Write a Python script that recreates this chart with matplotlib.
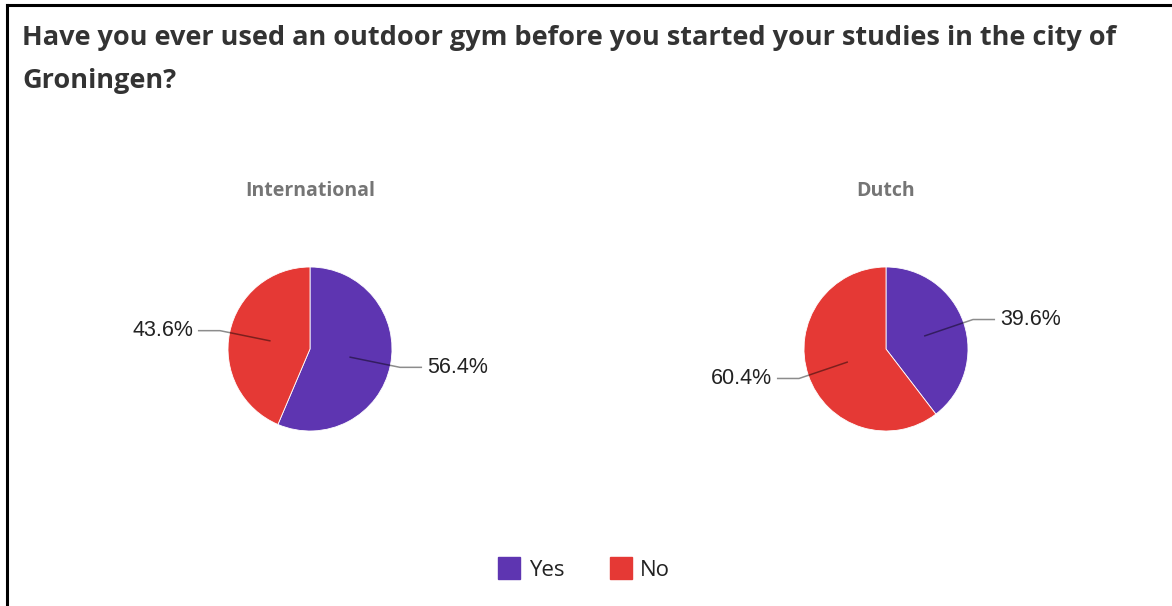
import matplotlib.pyplot as plt
from matplotlib.lines import Line2D
import numpy as np

# survey answers, share in percent
groups = ["International", "Dutch"]
answers = ["Yes", "No"]
shares = {
    "International": [56.4, 43.6],
    "Dutch": [39.6, 60.4],
}
colors = ["#5e35b1", "#e53935"]
title_lines = ["Have you ever used an outdoor gym before you started your studies in the city of",
               "Groningen?"]

W, H = 1172, 606
fig = plt.figure(figsize=(W / 100, H / 100), dpi=100)
fig.patch.set_facecolor("white")

# frame lines along top and left edge
fig.add_artist(Line2D([7 / W, 7 / W], [0, 1 - 5 / H], color="black", lw=2.2))
fig.add_artist(Line2D([7 / W, 1], [1 - 5 / H, 1 - 5 / H], color="black", lw=2.2))

for line, base in zip(title_lines, [45, 88]):
    fig.text(22 / W, 1 - base / H, line, ha="left", va="baseline", fontsize=19.5,
             fontweight="bold", family="Open Sans", color="#333333")

centers = [(310, 349), (886, 349)]
R = 82

for g, (cx, cy) in zip(groups, centers):
    ax = fig.add_axes([(cx - R) / W, 1 - (cy + R) / H, 2 * R / W, 2 * R / H])
    vals = shares[g]
    wedges, _ = ax.pie(vals, colors=colors, startangle=90, counterclock=False,
                       radius=1, wedgeprops=dict(edgecolor="white", linewidth=0.6))
    ax.set_xlim(-1, 1)
    ax.set_ylim(-1, 1)
    ax.set_aspect("equal")
    ax.axis("off")

    fig.text(cx / W, 1 - 196 / H, g, ha="center", va="baseline", fontsize=14,
             fontweight="bold", family="Open Sans", color="#757575")

    # leader lines and value labels
    for w, v in zip(wedges, vals):
        mid = np.deg2rad((w.theta1 + w.theta2) / 2)
        x0, y0 = 0.5 * np.cos(mid), 0.5 * np.sin(mid)
        x1, y1 = 1.12 * np.cos(mid), 1.12 * np.sin(mid)
        side = 1 if x1 > 0 else -1
        x2 = x1 + side * 0.26
        ax.plot([x0, x1, x2], [y0, y1, y1], color="black", alpha=0.45, lw=1.1,
                clip_on=False, solid_joinstyle="round")
        ax.text(x2 + side * 0.07, y1, f"{v:.1f}%", ha="left" if side > 0 else "right",
                va="center", fontsize=15.5, family="Liberation Sans", color="#222222",
                clip_on=False)

handles = [Line2D([], [], marker="s", linestyle="none", markersize=16.5,
                  markerfacecolor=c, markeredgecolor=c) for c in colors]
fig.legend(handles, answers, loc="center", bbox_to_anchor=(584 / W, 1 - 570 / H),
           ncol=2, frameon=False, handlelength=1.05, handletextpad=0.36,
           columnspacing=2.0, prop=dict(family="Open Sans", size=16),
           labelcolor="#222222")

fig.savefig("out.png", dpi=100, facecolor="white")
